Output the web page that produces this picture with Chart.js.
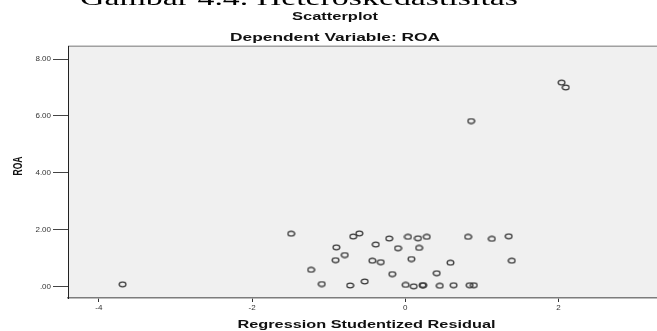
<!DOCTYPE html>
<html>
<head>
<meta charset="utf-8">
<script src="https://cdn.jsdelivr.net/npm/chart.js@4/dist/chart.umd.min.js"></script>
<style>
html,body{margin:0;padding:0;background:#fff;overflow:hidden;width:657px;height:331px;}
canvas{display:block;}
</style>
</head>
<body>
<canvas id="c" width="670" height="331"></canvas>
<script>
// ---- data ----
const residuals = [-3.69,-1.49,-1.23,-1.09,-0.90,-0.79,-0.91,-0.72,-0.53,-0.68,-0.60,-0.385,-0.43,-0.32,-0.21,0.035,0.165,0.28,-0.095,0.18,0.08,-0.17,0.005,0.11,0.225,0.235,0.41,0.45,0.63,0.84,0.895,0.59,0.82,1.13,1.35,1.39,0.86,2.04,2.095];
const roa       = [0.08,1.86,0.59,0.09,1.38,1.11,0.93,0.04,0.18,1.76,1.87,1.48,0.91,0.86,1.69,1.75,1.70,1.75,1.35,1.36,0.97,0.44,0.06,0.01,0.05,0.05,0.47,0.03,0.05,0.05,0.05,0.84,1.75,1.68,1.77,0.91,5.82,7.17,7.00];
const xTickValues = [-4,-2,0,2];
const xTickLabels = ['-4','-2','0','2'];
const yTickValues = [0,2,4,6,8];
const yTickLabels = ['.00','2.00','4.00','6.00','8.00'];
const headerText = 'Gambar 4.4. Heteroskedastisitas';
const chartTitle = 'Scatterplot';
const chartSubtitle = 'Dependent Variable: ROA';
const xTitle = 'Regression Studentized Residual';
const yTitle = 'ROA';

// hollow ellipse marker (image is horizontally stretched)
const mk = document.createElement('canvas');
mk.width = 9; mk.height = 7;
(function(){
  const g = mk.getContext('2d');
  g.strokeStyle = '#3a3a3a'; g.lineWidth = 1.25;
  g.beginPath(); g.ellipse(4.5,3.5,3.4,2.4,0,0,Math.PI*2); g.stroke();
})();

const points = residuals.map((x,i)=>({x:x, y:roa[i]}));

function stretchedText(ctx, text, cx, y, width, font, color){
  ctx.save();
  ctx.font = font; ctx.fillStyle = color || '#111';
  ctx.textAlign = 'center'; ctx.textBaseline = 'alphabetic';
  const w = ctx.measureText(text).width;
  ctx.translate(cx, y);
  ctx.scale(width / w, 1);
  ctx.fillText(text, 0, 0);
  ctx.restore();
}

const deco = {
  id: 'deco',
  beforeDraw(chart){
    const {ctx, chartArea:a} = chart;
    ctx.save();
    ctx.fillStyle = '#f0f0f0';
    ctx.fillRect(a.left, a.top, a.right - a.left, a.bottom - a.top);
    ctx.strokeStyle = '#a0a0a0'; ctx.lineWidth = 1.5;
    ctx.beginPath(); ctx.moveTo(a.left, a.top + 0.25); ctx.lineTo(a.right, a.top + 0.25); ctx.stroke();
    ctx.restore();
  },
  afterDraw(chart){
    const {ctx, chartArea:a} = chart;
    // cut-off caption at top of page
    stretchedText(ctx, headerText, 299, 5, 438, '21px "Liberation Serif"', '#000');
    stretchedText(ctx, chartTitle, 335, 20, 86, 'bold 11px "Liberation Sans"', '#111');
    stretchedText(ctx, chartSubtitle, 335, 41, 210, 'bold 11px "Liberation Sans"', '#111');
    stretchedText(ctx, xTitle, (a.left + a.right)/2, 327.5, 258, 'bold 10.5px "Liberation Sans"', '#111');
    // y title rotated
    ctx.save();
    ctx.font = 'bold 10.5px "Liberation Sans"'; ctx.fillStyle = '#111';
    ctx.textAlign = 'center'; ctx.textBaseline = 'middle';
    const w = ctx.measureText(yTitle).width;
    ctx.translate(18, 166);
    ctx.scale(1.3, 1);
    ctx.rotate(-Math.PI/2);
    ctx.scale(19 / w, 1);
    ctx.fillText(yTitle, 0, 0);
    ctx.restore();
  }
};

new Chart(document.getElementById('c'), {
  type: 'scatter',
  data: { datasets: [{
    data: points,
    pointStyle: mk,
    pointRadius: 4,
    pointHoverRadius: 4
  }]},
  options: {
    responsive: false,
    devicePixelRatio: 1,
    animation: false,
    events: [],
    layout: { padding: { top: 46, left: 0, right: 2, bottom: 0 } },
    plugins: { legend: {display:false}, title:{display:false}, tooltip:{enabled:false} },
    scales: {
      x: {
        type: 'linear', min: -4.403, max: 3.39,
        afterFit(s){ s.height = 33; },
        afterBuildTicks(s){ s.ticks = xTickValues.map(v=>({value:v})); },
        ticks: {
          includeBounds: false, autoSkip: false, maxRotation: 0,
          padding: 1,
          font: { family: '"Liberation Sans"', size: 8 }, color: '#333',
          callback: (v) => xTickLabels[xTickValues.indexOf(v)]
        },
        grid: { drawOnChartArea: false, drawTicks: true, tickLength: 4, color: '#333', lineWidth: 1 },
        border: { display: true, color: '#7c7c7c', width: 1.5 }
      },
      y: {
        type: 'linear', min: -0.40, max: 8.457,
        afterFit(s){ s.width = 68; },
        afterBuildTicks(s){ s.ticks = yTickValues.map(v=>({value:v})); },
        ticks: {
          includeBounds: false, autoSkip: false,
          padding: 2,
          font: { family: '"Liberation Sans"', size: 8 }, color: '#333',
          callback: (v) => yTickLabels[yTickValues.indexOf(v)]
        },
        grid: { drawOnChartArea: false, drawTicks: true, tickLength: 15, color: '#444', lineWidth: 1 },
        border: { display: true, color: '#222', width: 1 }
      }
    }
  },
  plugins: [deco]
});
</script>
</body>
</html>
